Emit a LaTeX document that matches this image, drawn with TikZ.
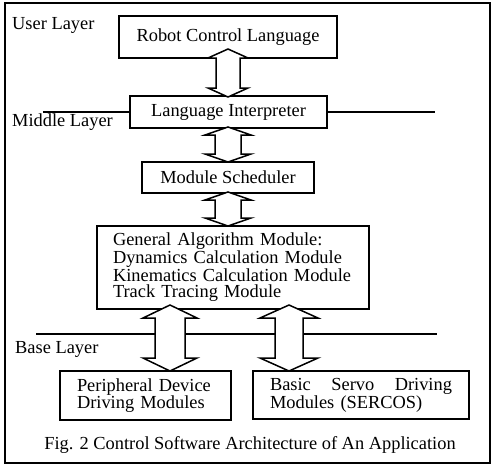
\documentclass[tikz,border=0pt]{standalone}
\usepackage{fontspec}
\setmainfont{Liberation Serif}
\begin{document}
\begin{tikzpicture}[x=1pt,y=-1pt,
  every node/.style={font=\fontsize{18.4}{16.5}\selectfont},
  box/.style={draw,line width=1.3pt,fill=white,inner sep=0pt},
  txtbox/.style={box,align=left,inner ysep=0pt},
  lbl/.style={inner sep=0pt,anchor=base west},
  layerline/.style={line width=1.2pt},
  blockarrow/.style={draw,line width=1.5pt,fill=white,line join=miter}]
\useasboundingbox (0,0) rectangle (500,467);
\draw[line width=1.5pt] (5,3) rectangle (490,463);
% boxes
\node[box,minimum width=218pt,minimum height=42pt] (rcl) at (228,37) {Robot Control Language};
\node[box,minimum width=197pt,minimum height=32pt] (li) at (228.5,112) {Language Interpreter};
\node[box,minimum width=172pt,minimum height=31pt] (ms) at (228,177.5) {Module Scheduler};
\node[txtbox,text width=240pt,inner xsep=16pt,minimum height=83pt,
  font=\fontsize{18.4}{16.7}\selectfont] (ga) at (233,267.5)
  {General Algorithm Module:\\Dynamics Calculation Module\\Kinematics Calculation Module\\Track Tracing Module};
\node[txtbox,text width=137pt,inner xsep=17pt,minimum height=49pt] (per) at (145.5,395.5)
  {Peripheral Device\\Driving Modules};
\node[txtbox,text width=182pt,inner xsep=17pt,minimum height=48pt] (bsd) at (361,395)
  {Basic\hfill Servo\hfill Driving\\Modules (SERCOS)};
% layer labels
\node[lbl] (ul) at (12,29) {User Layer};
\node[lbl] (mlab) at (12,126) {Middle Layer};
\node[lbl] (blab) at (15,353) {Base Layer};
\node[inner sep=0pt,anchor=base] (cap) at (250,449) {Fig. 2 Control Software Architecture of An Application};
% layer lines
\coordinate (mleft) at (43,112);
\coordinate (mright) at (435,112);
\coordinate (bleft) at (36,334);
\coordinate (bright) at (437,334);
\draw[layerline] (mleft) -- (li.west);
\draw[layerline] (li.east) -- (mright);
\draw[layerline] (bleft) -- (bright);
% double block arrows: cx, ytop, ybottom, head half, shaft half, head length
\newcommand\dblarr[6]{%
  \draw[blockarrow] (#1,#2) -- ({#1+#4},{#2+#6}) -- ({#1+#5},{#2+#6}) -- ({#1+#5},{#3-#6})
    -- ({#1+#4},{#3-#6}) -- (#1,#3) -- ({#1-#4},{#3-#6}) -- ({#1-#5},{#3-#6})
    -- ({#1-#5},{#2+#6}) -- ({#1-#4},{#2+#6}) -- cycle;}
\dblarr{228}{49}{97}{20}{12}{9}
\dblarr{228}{127}{162}{23}{13}{8}
\dblarr{228}{192}{226}{23}{13}{8}
\dblarr{170}{305}{371}{27}{15}{13}
\dblarr{289}{305}{371}{29}{14}{13}
\end{tikzpicture}
\end{document}
